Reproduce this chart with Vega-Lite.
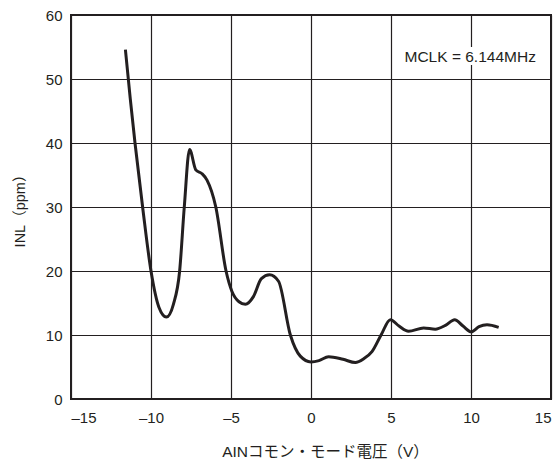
{
  "$schema": "https://vega.github.io/schema/vega-lite/v6.json",
  "autosize": {"type": "none"},
  "padding": {"left": 71, "top": 15, "right": 9, "bottom": 60},
  "width": 480,
  "height": 384,
  "background": "white",
  "config": {
    "view": {"stroke": "#231f20", "strokeWidth": 2},
    "font": "Liberation Sans"
  },
  "datasets": {
    "curve": [
      {"x": -11.6, "y": 54.6},
      {"x": -11.3, "y": 47},
      {"x": -11.0, "y": 40},
      {"x": -10.5, "y": 29.5},
      {"x": -10.0, "y": 20},
      {"x": -9.5, "y": 14.3},
      {"x": -9.04, "y": 12.8},
      {"x": -8.6, "y": 14.8},
      {"x": -8.21, "y": 20},
      {"x": -7.92, "y": 30},
      {"x": -7.59, "y": 39.0},
      {"x": -7.2, "y": 35.8},
      {"x": -6.81, "y": 35.2},
      {"x": -6.5, "y": 34.2},
      {"x": -5.95, "y": 30},
      {"x": -5.31, "y": 20},
      {"x": -4.94, "y": 16.8},
      {"x": -4.5, "y": 15.2},
      {"x": -4.1, "y": 14.8},
      {"x": -3.6, "y": 16.0},
      {"x": -3.1, "y": 18.8},
      {"x": -2.59, "y": 19.4},
      {"x": -2.03, "y": 18.4},
      {"x": -1.29, "y": 10},
      {"x": -0.67, "y": 6.7},
      {"x": 0.0, "y": 5.8},
      {"x": 0.5, "y": 6.0},
      {"x": 1.1, "y": 6.6},
      {"x": 2.0, "y": 6.2},
      {"x": 2.77, "y": 5.7},
      {"x": 3.3, "y": 6.3},
      {"x": 3.81, "y": 7.4},
      {"x": 4.38, "y": 10},
      {"x": 4.96, "y": 12.4},
      {"x": 5.5, "y": 11.4},
      {"x": 6.1, "y": 10.6},
      {"x": 7.04, "y": 11.1},
      {"x": 7.77, "y": 10.9},
      {"x": 8.4, "y": 11.5},
      {"x": 8.98, "y": 12.4},
      {"x": 9.5, "y": 11.4},
      {"x": 10.02, "y": 10.5},
      {"x": 10.5, "y": 11.3},
      {"x": 11.0, "y": 11.6},
      {"x": 11.73, "y": 11.2}
    ],
    "note": [{"x": 9.95, "y": 53.5, "t": "MCLK = 6.144MHz"}]
  },
  "layer": [
    {
      "data": {"name": "curve"},
      "mark": {"type": "line", "interpolate": "monotone", "color": "#231f20", "strokeWidth": 3},
      "encoding": {
        "x": {
          "field": "x", "type": "quantitative",
          "scale": {"domain": [-15, 15], "nice": false, "zero": false},
          "axis": {
            "values": [-15, -10, -5, 0, 5, 10, 15],
            "labelExpr": "replace(replace(datum.label, '−', '–'), '-', '–')",
            "title": "AINコモン・モード電圧（V）",
            "titleFont": "Liberation Sans, Noto Sans CJK JP",
            "titleFontSize": 15.5, "titleFontWeight": "normal", "titleColor": "#231f20",
            "titlePadding": 19, "titleX": 254,
            "labelFontSize": 15, "labelColor": "#231f20", "labelPadding": 11,
            "labelFont": "Liberation Sans",
            "ticks": false, "domain": false,
            "grid": true, "gridColor": "#231f20", "gridWidth": 1.2, "gridOpacity": 1
          }
        },
        "y": {
          "field": "y", "type": "quantitative",
          "scale": {"domain": [0, 60], "nice": false},
          "axis": {
            "values": [0, 10, 20, 30, 40, 50, 60],
            "title": "INL（ppm）",
            "titleFont": "Liberation Sans, Noto Sans CJK JP",
            "titleFontSize": 14.5, "titleFontWeight": "normal", "titleColor": "#231f20",
            "titlePadding": 18,
            "labelFontSize": 15, "labelColor": "#231f20", "labelPadding": 9,
            "labelFont": "Liberation Sans",
            "ticks": false, "domain": false,
            "grid": true, "gridColor": "#231f20", "gridWidth": 1.2, "gridOpacity": 1
          }
        }
      }
    },
    {
      "data": {"name": "note"},
      "mark": {"type": "rect", "color": "white"},
      "encoding": {
        "x": {"datum": 7.4, "type": "quantitative"},
        "x2": {"datum": 12.6},
        "y": {"datum": 52.2, "type": "quantitative"},
        "y2": {"datum": 55.0}
      }
    },
    {
      "data": {"name": "note"},
      "mark": {"type": "text", "fontSize": 15.5, "color": "#231f20", "font": "Liberation Sans", "align": "center", "baseline": "middle"},
      "encoding": {
        "x": {"field": "x", "type": "quantitative"},
        "y": {"field": "y", "type": "quantitative"},
        "text": {"field": "t"}
      }
    }
  ]
}
